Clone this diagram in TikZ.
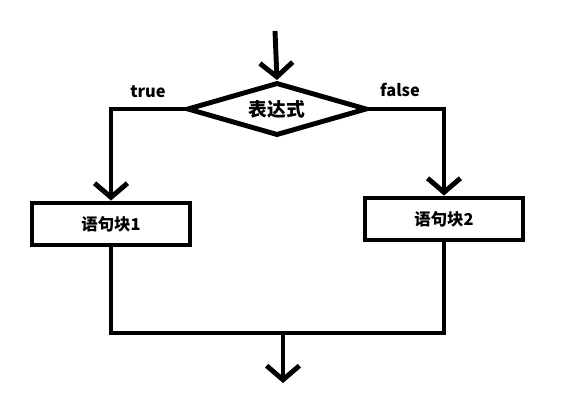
\documentclass[tikz,border=0pt]{standalone}
\usepackage{fontspec}
\setmainfont{Noto Sans CJK SC}
\usetikzlibrary{arrows.meta, shapes.geometric}

\begin{document}
\begin{tikzpicture}[x=0.03cm,y=-0.03cm,line width=4.2pt,
    >={Straight Barb[length=12pt,width=28pt]}]
  \tikzstyle{every node}=[font=\fontsize{14}{16}\selectfont\bfseries]
  \tikzstyle{cond}=[draw,diamond,aspect=3.4,inner sep=0pt,
    font=\fontsize{16}{18}\selectfont\bfseries,
    minimum width=180*0.03cm,minimum height=53*0.03cm]
  \tikzstyle{block}=[draw,rectangle,inner sep=0pt,
    minimum width=158*0.03cm,minimum height=42*0.03cm]

  \useasboundingbox (0,0) rectangle (565,411);

  \coordinate (in)   at (275,31);
  \node[cond]  (expr)   at (277,109) {表达式};
  \node[block] (blk1)   at (111,224) {语句块1};
  \node[block] (blk2)   at (444,219) {语句块2};
  \coordinate (join) at (283,333);
  \coordinate (out)  at (283,383);

  \node[inner sep=0pt] (lbltrue)  at (148,92) {true};
  \node[inner sep=0pt] (lblfalse) at (400,90) {false};

  \draw[->] (in) -- (expr.north);
  \draw[->] (expr.west) -| (blk1.north);
  \draw[->] (expr.east) -| (blk2.north);
  \draw (blk1.south) |- (join);
  \draw (blk2.south) |- (join);
  \draw[->] (join) -- (out);
\end{tikzpicture}
\end{document}
